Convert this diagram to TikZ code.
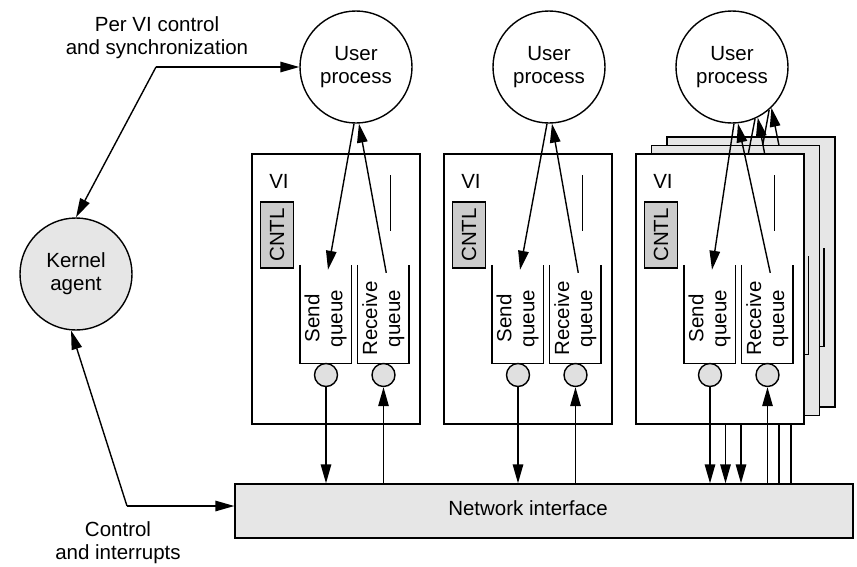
\documentclass[tikz,border=0pt]{standalone}
\usepackage{fontspec}
\setmainfont{Liberation Sans}
\usetikzlibrary{arrows.meta,calc}
\definecolor{panel}{HTML}{E6E6E6}
\definecolor{cntlgray}{HTML}{CCCCCC}
\definecolor{valvegray}{HTML}{E0E0E0}

\tikzset{
  every node/.style={font=\fontsize{20.5}{23}\selectfont},
  ln/.style={line width=1.4pt},
  arr/.style={ln, -{Triangle[length=19pt,width=10.5pt]}},
  proc/.style={circle, draw, ln, minimum size=112pt, inner sep=0pt, align=center, fill=white},
  vibox/.style={draw, ln, minimum width=168pt, minimum height=270pt, inner sep=0pt},
  cntl/.style={draw, ln, fill=cntlgray, minimum width=66pt, minimum height=33pt, inner sep=0pt, rotate=90},
  queue/.style={minimum width=51pt, minimum height=98pt, inner sep=0pt},
  qtext/.style={rotate=90, align=center, inner sep=0pt},
  valve/.style={circle, draw, ln, fill=valvegray, minimum size=23pt, inner sep=0pt},
  nibox/.style={draw, ln, fill=panel, minimum width=618pt, minimum height=54pt, inner sep=0pt},
  caption/.style={align=center, inner sep=0pt}
}

% One VI: frame, send/receive queues and their doorbells.
% #1 = name prefix, #2 = frame fill
\newcommand\viframe[2]{%
  \node[vibox, fill=#2] (#1box) at (84,289) {};
  \draw[ln] (138.5,175) -- (138.5,231);
  \node[queue] (#1sq) at (73.5,314) {};
  \node[queue] (#1rq) at (131.25,314) {};
  \draw[ln] (#1sq.north west) |- (#1sq.south east) -- (#1sq.north east);
  \draw[ln] (#1rq.north west) |- (#1rq.south east) -- (#1rq.north east);
  \node[valve] (#1sv) at (74,375) {};
  \node[valve] (#1rv) at (131.5,375) {};
}
% A VI in front, with its control block and labels
\newcommand\viunit[1]{%
  \viframe{#1}{white}
  \node[inner sep=0pt] (#1vi) at (27,181) {VI};
  \node[cntl] (#1cntl) at (25,235) {CNTL};
  \node[qtext] (#1sqt) at ($(#1sq)+(0,4.5)$) {Send\\queue};
  \node[qtext] (#1rqt) at ($(#1rq)+(0,4.5)$) {Receive\\queue};
}

\begin{document}
\begin{tikzpicture}[x=1pt,y=-1pt]
\useasboundingbox (0,0) rectangle (857,566);

% processes, kernel agent and the network interface
\node[proc] (upa) at (356,67) {User\\process};
\node[proc] (upb) at (549,67) {User\\process};
\node[proc] (upc) at (732,67) {User\\process};
\node[proc, fill=panel] (ka) at (76,274) {Kernel\\agent};
\node[nibox] (ni) at (544,511) {};
\node[inner sep=0pt] (nilabel) at (528,508) {Network interface};

% kernel agent links
\coordinate (ctl1) at (156,67);
\node[caption] (cap1) at (157,38) {Per VI control\\and synchronization};
\draw[arr] (ctl1) -- (upa.west);
\draw[arr] (ctl1) -- (ka.north);
\coordinate (ctl2) at (127,506);
\node[caption] (cap2) at (118,543) {Control\\and interrupts};
\draw[arr] (ctl2) -- (ctl2 -| ni.west);
\draw[arr] (ctl2) -- (ka.265);

% first VI
\begin{scope}[shift={(252,0)}]
  \viunit{a}
\end{scope}
\draw[arr] (upa.268) -- ($(asq.north)+(2.5,5)$);
\draw[arr] ($(arq.north)+(3,8)$) -- (upa.273);
\draw[arr] (asv.south) -- (asv.south |- ni.north);
\draw[arr] (arv.south |- ni.north) -- (arv.south);

% second VI
\begin{scope}[shift={(444,0)}]
  \viunit{b}
\end{scope}
\draw[arr] (upb.268) -- ($(bsq.north)+(2.5,5)$);
\draw[arr] ($(brq.north)+(3,8)$) -- (upb.273);
\draw[arr] (bsv.south) -- (bsv.south |- ni.north);
\draw[arr] (brv.south |- ni.north) -- (brv.south);

% third process: a stack of VIs, drawn back to front
\begin{scope}[shift={(667,-17)}]
  \viframe{cc}{panel}
\end{scope}
\draw[arr] (upc.311) -- ($(ccsq.north)+(2.5,5)$);
\draw[arr] ($(ccrq.north)+(3,8)$) -- (upc.314);
\draw[arr] (ccsv.south) -- (ccsv.south |- ni.north);

\begin{scope}[shift={(651.5,-8.5)}]
  \viframe{cb}{panel}
\end{scope}
\draw[arr] (upc.294) -- ($(cbsq.north)+(2.5,5)$);
\draw[arr] ($(cbrq.north)+(3,8)$) -- (upc.297);
\draw[arr] (cbsv.south) -- (cbsv.south |- ni.north);

\begin{scope}[shift={(636,0)}]
  \viunit{c}
\end{scope}
\draw[arr] (upc.272) -- ($(csq.north)+(2.5,5)$);
\draw[arr] ($(crq.north)+(3,8)$) -- (upc.276);
\draw[arr] (csv.south) -- (csv.south |- ni.north);
\draw[arr] (crv.south |- ni.north) -- (crv.south);

% receive paths of the rear VIs, seen below the front frame
\coordinate (cbin) at (779,424);
\coordinate (ccin) at (791,424);
\draw[ln] (cbin |- ni.north) -- (cbin);
\draw[ln] (ccin |- ni.north) -- (ccin);
\end{tikzpicture}
\end{document}
